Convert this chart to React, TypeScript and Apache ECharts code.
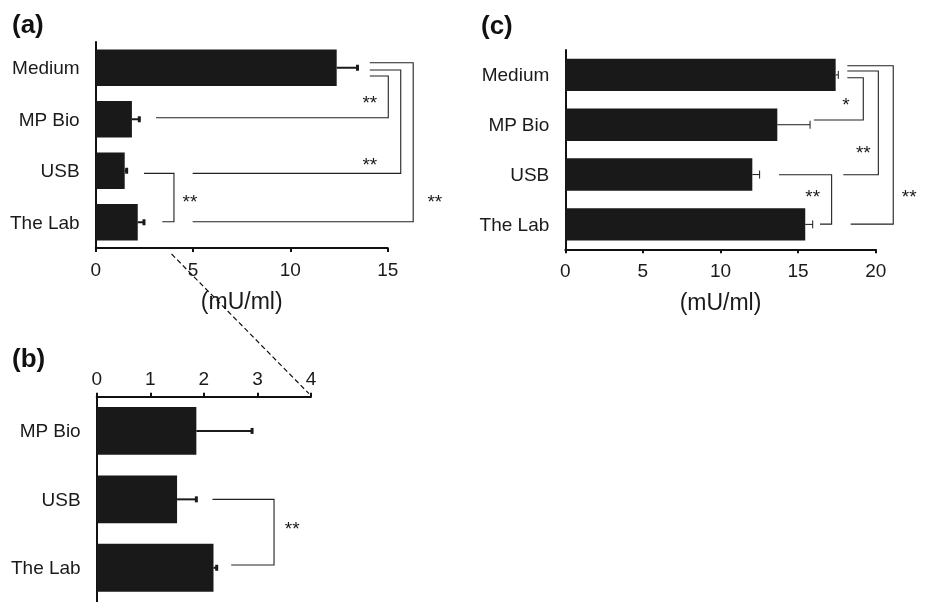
import React, { useEffect, useRef } from "react";
import * as echarts from "echarts";

// ---- data ----
const categoriesA = ["Medium", "MP Bio", "USB", "The Lab"];
const valuesA = [12.38, 1.86, 1.49, 2.16];
const errorsA = [1.07, 0.38, 0.1, 0.32];

const categoriesB = ["MP Bio", "USB", "The Lab"];
const valuesB = [1.86, 1.5, 2.18];
const errorsB = [1.04, 0.36, 0.06];

const categoriesC = ["Medium", "MP Bio", "USB", "The Lab"];
const valuesC = [17.42, 13.66, 12.05, 15.46];
const errorsC = [0.17, 2.11, 0.47, 0.48];

const ticksA = [0, 5, 10, 15];
const ticksB = [0, 1, 2, 3, 4];
const ticksC = [0, 5, 10, 15, 20];

// significance brackets: [startX, startRow, cornerX, endRow, endX] in data units
const bracketsA = [
  [14.08, 0.16, 15.03, 0.97, 3.1],
  [14.08, 0.043, 15.67, 2.05, 4.98],
  [14.08, -0.098, 16.31, 2.99, 4.98],
  [2.48, 2.05, 4.02, 2.99, 3.42],
];
const starsA = ["**", "**", "**", "**"];
const starPosA = [
  [14.08, 0.6],
  [14.08, 1.8],
  [17.42, 2.52],
  [4.84, 2.52],
];

const bracketsB = [[2.16, 1.0, 3.31, 1.96, 2.51]];
const starsB = ["**"];
const starPosB = [[3.65, 1.37]];

const bracketsC = [
  [18.17, 0.056, 19.2, 0.906, 16.02],
  [18.17, -0.078, 20.17, 2.004, 17.91],
  [18.17, -0.185, 21.13, 2.994, 18.39],
  [13.77, 2.004, 17.16, 2.994, 16.41],
];
const starsC = ["*", "**", "**", "**"];
const starPosC = [
  [18.09, 0.52],
  [19.2, 1.47],
  [22.16, 2.36],
  [15.94, 2.36],
];

const FONT = "'Liberation Sans', Arial, Helvetica, sans-serif";
const BAR = "#191919";
const INK = "#1a1a1a";

function errSeries(xi: number, yi: number, vals: number[], errs: number[], lw: number, capW: number, capH: number) {
  return {
    type: "custom",
    xAxisIndex: xi,
    yAxisIndex: yi,
    encode: { x: 0, y: 1 },
    data: vals.map((v, i) => [v, i, errs[i]]),
    renderItem: (params: any, api: any) => {
      const v = api.value(0);
      const k = api.value(1);
      const e = api.value(2);
      const p0 = api.coord([v, k]);
      const p1 = api.coord([v + e, k]);
      return {
        type: "group",
        children: [
          { type: "line", shape: { x1: p0[0], y1: p0[1], x2: p1[0], y2: p1[1] }, style: { stroke: INK, lineWidth: lw } },
          { type: "line", shape: { x1: p1[0], y1: p1[1] - capH / 2, x2: p1[0], y2: p1[1] + capH / 2 }, style: { stroke: INK, lineWidth: capW } },
        ],
      };
    },
    z: 5,
  };
}

function bracketSeries(xi: number, yi: number, brackets: number[][]) {
  return {
    type: "custom",
    xAxisIndex: xi,
    yAxisIndex: yi,
    encode: { x: 0, y: 1 },
    clip: false,
    data: brackets,
    renderItem: (params: any, api: any) => {
      const sx = api.value(0), sy = api.value(1), cx = api.value(2), ey = api.value(3), ex = api.value(4);
      const pts = [api.coord([sx, sy]), api.coord([cx, sy]), api.coord([cx, ey]), api.coord([ex, ey])];
      return { type: "polyline", shape: { points: pts }, style: { stroke: "#222", lineWidth: 1.1, fill: null } };
    },
  };
}

function starSeries(xi: number, yi: number, labels: string[], pos: number[][]) {
  return {
    type: "custom",
    xAxisIndex: xi,
    yAxisIndex: yi,
    encode: { x: 0, y: 1 },
    clip: false,
    data: pos,
    renderItem: (params: any, api: any) => {
      const p = api.coord([api.value(0), api.value(1)]);
      return {
        type: "text",
        x: p[0],
        y: p[1] + 4,
        style: { text: labels[params.dataIndex], fill: INK, font: `19px ${FONT}`, align: "center", verticalAlign: "middle" },
      };
    },
  };
}

function valueX(grid: number, max: number, interval: number, pos: "top" | "bottom", name: string, margin: number) {
  return {
    type: "value",
    gridIndex: grid,
    min: 0,
    max,
    interval,
    position: pos,
    name,
    nameLocation: "middle",
    nameGap: 41,
    nameTextStyle: { fontFamily: FONT, fontSize: 23, color: INK },
    axisLine: { show: true, onZero: false, lineStyle: { color: "#111", width: 2 } },
    axisTick: { show: true, length: 4, lineStyle: { color: "#111", width: 2 } },
    axisLabel: { fontFamily: FONT, fontSize: 19, color: INK, margin },
    splitLine: { show: false },
  };
}

function catY(grid: number, cats: string[]) {
  return {
    type: "category",
    gridIndex: grid,
    data: cats,
    inverse: true,
    axisLine: { show: true, onZero: false, lineStyle: { color: "#111", width: 2 } },
    axisTick: { show: false },
    axisLabel: { fontFamily: FONT, fontSize: 19, color: INK, margin: 16 },
    splitLine: { show: false },
  };
}

function valY(grid: number, n: number) {
  return {
    type: "value",
    gridIndex: grid,
    min: -0.5,
    max: n - 0.5,
    inverse: true,
    show: false,
    axisLine: { show: false, onZero: false },
    splitLine: { show: false },
  };
}

export default function App() {
  const ref = useRef<HTMLDivElement>(null);
  useEffect(() => {
    if (!ref.current) return;
    const chart = echarts.init(ref.current, null, { renderer: "svg" });
    const option: any = {
      animation: false,
      textStyle: { fontFamily: FONT },
      grid: [
        { left: 95.7, top: 42, width: 292, height: 206 },
        { left: 96.7, top: 396.7, width: 214.3, height: 208.5 },
        { left: 565.3, top: 50, width: 310.4, height: 199.3 },
      ],
      xAxis: [
        valueX(0, ticksA[ticksA.length - 1], ticksA[1] - ticksA[0], "bottom", "(mU/ml)", 12),
        valueX(1, ticksB[ticksB.length - 1], ticksB[1] - ticksB[0], "top", "", 9),
        valueX(2, ticksC[ticksC.length - 1], ticksC[1] - ticksC[0], "bottom", "(mU/ml)", 12),
      ],
      yAxis: [
        catY(0, categoriesA),
        valY(0, categoriesA.length),
        catY(1, categoriesB),
        valY(1, categoriesB.length),
        catY(2, categoriesC),
        valY(2, categoriesC.length),
      ],
      series: [
        { type: "bar", xAxisIndex: 0, yAxisIndex: 0, data: valuesA, barWidth: "71%", itemStyle: { color: BAR } },
        { type: "bar", xAxisIndex: 1, yAxisIndex: 2, data: valuesB, barWidth: "70%", itemStyle: { color: BAR } },
        { type: "bar", xAxisIndex: 2, yAxisIndex: 4, data: valuesC, barWidth: "65%", itemStyle: { color: BAR } },
        errSeries(0, 1, valuesA, errorsA, 2, 3, 6),
        errSeries(1, 3, valuesB, errorsB, 2, 3, 6),
        errSeries(2, 5, valuesC, errorsC, 1, 1, 8),
        bracketSeries(0, 1, bracketsA),
        bracketSeries(1, 3, bracketsB),
        bracketSeries(2, 5, bracketsC),
        starSeries(0, 1, starsA, starPosA),
        starSeries(1, 3, starsB, starPosB),
        starSeries(2, 5, starsC, starPosC),
      ],
      graphic: [
        { id: "ta", type: "text", left: 12, top: 11, style: { text: "(a)", font: `bold 26px ${FONT}`, fill: "#111" } },
        { id: "tb", type: "text", left: 12, top: 345, style: { text: "(b)", font: `bold 26px ${FONT}`, fill: "#111" } },
        { id: "tc", type: "text", left: 481, top: 12, style: { text: "(c)", font: `bold 26px ${FONT}`, fill: "#111" } },
      ],
    };
    chart.setOption(option);
    // dashed zoom connector from x=4 on axis (a) to x=4 on axis (b)
    const pa = chart.convertToPixel({ xAxisIndex: 0, yAxisIndex: 1 } as any, [4, 3.5]) as number[];
    const pb = chart.convertToPixel({ xAxisIndex: 1, yAxisIndex: 3 } as any, [4, -0.5]) as number[];
    if (pa && pb) {
      chart.setOption({
        graphic: [
          {
            id: "connector",
            type: "line",
            shape: { x1: pa[0] - 2, y1: pa[1] + 6, x2: pb[0] - 2, y2: pb[1] - 3 },
            style: { stroke: "#111", lineWidth: 1.2, lineDash: [5, 3] },
            z: 10,
          },
        ],
      });
    }
    return () => chart.dispose();
  }, []);
  return <div ref={ref} style={{ position: "fixed", left: 0, top: 0, width: 928, height: 602 }} />;
}
